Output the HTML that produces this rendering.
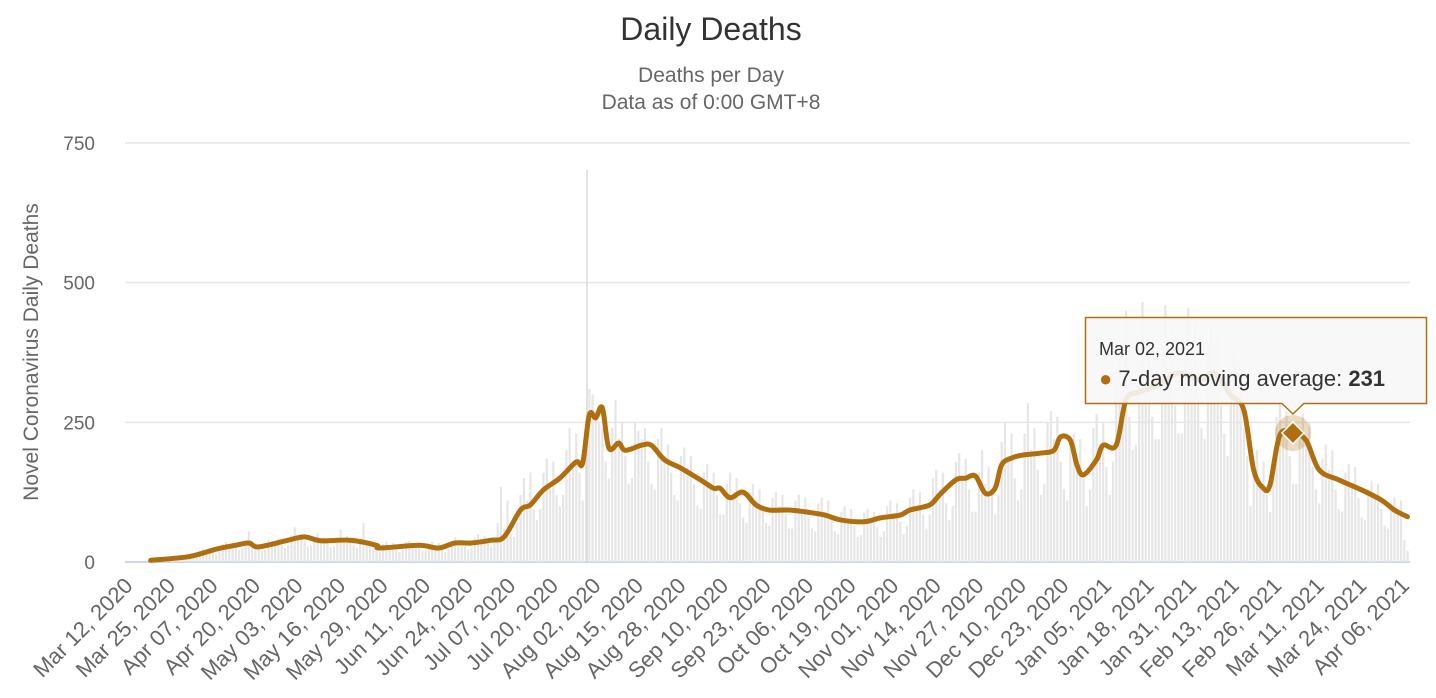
<!DOCTYPE html>
<html><head><meta charset="utf-8"><style>
body{margin:0;background:#fff;font-family:"Liberation Sans",sans-serif;}
svg{display:block}
</style></head><body>
<svg id="chart" width="1436" height="698" font-family="Liberation Sans, sans-serif">
<text x="711" y="40" text-anchor="middle" font-size="32" fill="#333">Daily Deaths</text>
<text x="711" y="82" text-anchor="middle" font-size="21" fill="#666">Deaths per Day</text>
<text x="711" y="109" text-anchor="middle" font-size="21" fill="#666">Data as of 0:00 GMT+8</text>
<text transform="translate(38,352) rotate(-90)" text-anchor="middle" font-size="21" fill="#666">Novel Coronavirus Daily Deaths</text>
<g id="grid"></g><g id="bars"></g>
<line x1="587" y1="170" x2="587" y2="562" stroke="#d8d8d8" stroke-width="1.5"/>
<g id="line"></g><g id="xlabels"></g>
</svg>
<script>
const maDays=[6,18,26,32,36,39,48,53,58,67,75,76,88,94,99,104,110,114,119,122,126,131,136,138,140,142,144,146,149,151,156,159,163,168,174,178,180,183,187,191,195,201,207,212,217,224,229,235,238,244,247,252,255,258,261,264,266,269,272,278,282,284,287,289,291,295,297,301,304,308,314,320,327,331,336,340,343,346,348,351,355,359,363,369,376,382,386,390];
const maValues=[3,10,23,30,34,27,39,45,38,39,30,25,30,25,34,34,39,45,93,102,129,150,179,177,263,258,276,204,213,200,209,209,183,168,147,132,132,115,125,102,93,93,89,84,75,72,79,84,93,102,120,147,150,154,123,132,174,186,191,195,200,224,218,174,156,183,209,209,290,304,317,338,326,338,299,272,165,132,138,227,231,218,165,147,129,111,93,81];
const barStart=6;
const barValues=[2,5,4,6,3,5,2,6,10,12,9,11,8,7,12,20,24,18,22,16,14,20,32,36,28,30,25,22,24,38,55,30,34,28,20,22,40,38,36,42,30,25,30,48,62,45,50,38,28,30,46,52,40,44,35,26,28,44,58,40,46,36,30,26,40,70,34,38,28,20,18,32,36,30,34,24,18,22,36,38,32,34,26,20,20,32,36,30,34,24,18,24,38,44,36,40,28,22,26,44,50,42,46,34,28,40,70,135,60,110,50,45,70,120,150,110,160,95,75,95,160,185,140,180,120,100,120,200,240,180,230,160,110,190,310,300,270,250,240,180,150,240,290,220,250,190,140,150,250,235,220,240,180,140,130,220,240,190,210,160,120,110,190,205,170,190,140,100,95,160,175,140,160,120,85,85,140,160,125,150,105,80,70,125,140,110,130,95,70,65,115,125,100,120,85,60,60,110,120,95,115,80,60,55,105,115,90,110,75,55,50,90,100,78,95,65,45,48,88,95,76,90,62,45,55,100,110,88,105,72,50,65,115,130,100,125,85,60,85,150,165,130,160,105,75,100,180,195,155,185,130,90,90,160,200,140,170,120,85,120,215,250,190,230,150,110,130,230,285,200,240,165,120,140,250,270,220,260,180,130,110,210,230,180,220,150,100,130,240,265,210,250,170,120,180,330,380,300,450,260,200,210,360,465,330,400,260,220,220,390,460,340,420,280,230,230,400,455,350,430,290,240,220,390,420,340,410,280,230,190,340,380,300,350,240,190,100,170,200,150,180,120,90,150,260,290,230,270,190,140,140,240,265,210,250,170,130,105,185,210,165,200,130,95,90,160,175,140,170,115,80,75,130,145,115,140,95,65,60,105,115,90,110,40,20];
const yTicks=[0,250,500,750];
const startDate=[2020,2,12];
const tickStep=13;
const tickCount=31;
const tooltipDay=355, tooltipValue=231, tooltipDate="Mar 02, 2021";

const NS="http://www.w3.org/2000/svg";
const X=d=>131+d*3.273;
const Y=v=>562-v*0.5587;
function mk(tag,attrs,parent){const e=document.createElementNS(NS,tag);for(const k in attrs)e.setAttribute(k,attrs[k]);parent.appendChild(e);return e;}
const grid=document.getElementById('grid');
yTicks.forEach(t=>{
  const l=mk('line',{x1:125,x2:1410,y1:Y(t),y2:Y(t),stroke:t===0?'#ccd6eb':'#e6e6e6','stroke-width':t===0?2:1.5},grid);
  
  
  const tx=mk('text',{x:95,y:Y(t)+7,'text-anchor':'end','font-size':19,fill:'#666'},grid);
  tx.textContent=t;
  
  
});
const bars=document.getElementById('bars');
barValues.forEach((v,i)=>{
  const r=mk('rect',{x:X(barStart+i)-1,y:Y(v),width:2.2,height:562-Y(v),fill:'#e6e6e6'},bars);
  
  
});
const lg=document.getElementById('line');
const pts=maDays.map((d,i)=>[X(d),Y(maValues[i])]);
let path='M'+pts[0][0]+','+pts[0][1];
for(let i=0;i<pts.length-1;i++){
  const p0=pts[Math.max(0,i-1)],p1=pts[i],p2=pts[i+1],p3=pts[Math.min(pts.length-1,i+2)];
  const c1=[p1[0]+(p2[0]-p0[0])/6,p1[1]+(p2[1]-p0[1])/6],c2=[p2[0]-(p3[0]-p1[0])/6,p2[1]-(p3[1]-p1[1])/6];
  path+=` C${c1[0]},${c1[1]} ${c2[0]},${c2[1]} ${p2[0]},${p2[1]}`;
}
const pl=mk('path',{d:path,fill:'none',stroke:'#b06f0e','stroke-width':5,'stroke-linejoin':'round','stroke-linecap':'round'},lg);


const tx0=X(tooltipDay),ty0=Y(tooltipValue);
const halo=mk('circle',{cx:tx0,cy:ty0,r:18,fill:'rgba(176,111,14,0.25)'},lg);


const dm=mk('path',{d:`M${tx0},${ty0-11} L${tx0+11},${ty0} L${tx0},${ty0+11} L${tx0-11},${ty0} Z`,fill:'#b06f0e',stroke:'#fff','stroke-width':1.5},lg);


const tt=mk('path',{d:`M1085.5,317.5 H1426.5 V403.5 H${tx0+11} L${tx0},414 L${tx0-11},403.5 H1085.5 Z`,fill:'rgba(247,247,247,0.9)',stroke:'#b06f0e','stroke-width':1.5},lg);


const t1=mk('text',{x:1099,y:355,'font-size':18,fill:'#333'},lg);
t1.textContent=tooltipDate;


const t2=mk('text',{x:1099,y:386,'font-size':22,fill:'#333'},lg);
t2.innerHTML='<tspan fill="#b06f0e">●</tspan> 7-day moving average: <tspan font-weight="bold">'+tooltipValue+'</tspan>';


const xl=document.getElementById('xlabels');
const M=['Jan','Feb','Mar','Apr','May','Jun','Jul','Aug','Sep','Oct','Nov','Dec'];
for(let i=0;i<tickCount;i++){
  const d=i*tickStep;
  const dt=new Date(Date.UTC(startDate[0],startDate[1],startDate[2]+d));
  const lab=M[dt.getUTCMonth()]+' '+String(dt.getUTCDate()).padStart(2,'0')+', '+dt.getUTCFullYear();
  const x=X(d)+3;
  const t=mk('text',{x:x,y:587,'text-anchor':'end','font-size':22,fill:'#666',transform:`rotate(-45 ${x} 587)`},xl);
  t.textContent=lab;
  
  
}
</script>
</body></html>
